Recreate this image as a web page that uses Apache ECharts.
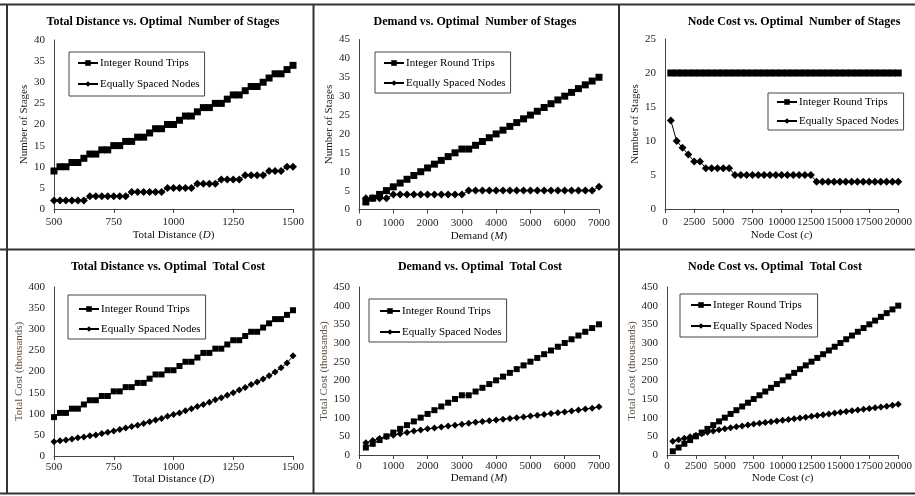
<!DOCTYPE html>
<html>
<head>
<meta charset="utf-8">
<script src="https://cdn.jsdelivr.net/npm/echarts@6/dist/echarts.min.js"></script>
<style>
html,body{margin:0;padding:0;background:#fff;}
#chart{width:915px;height:496px;}
</style>
</head>
<body>
<div id="chart"></div>
<script>
// ---------- data ----------
const distX = [500,525,550,575,600,625,650,675,700,725,750,775,800,825,850,875,900,925,950,975,1000,1025,1050,1075,1100,1125,1150,1175,1200,1225,1250,1275,1300,1325,1350,1375,1400,1425,1450,1475,1500];
const demandX = [200,400,600,800,1000,1200,1400,1600,1800,2000,2200,2400,2600,2800,3000,3200,3400,3600,3800,4000,4200,4400,4600,4800,5000,5200,5400,5600,5800,6000,6200,6400,6600,6800,7000];
const nodeX = [500,1000,1500,2000,2500,3000,3500,4000,4500,5000,5500,6000,6500,7000,7500,8000,8500,9000,9500,10000,10500,11000,11500,12000,12500,13000,13500,14000,14500,15000,15500,16000,16500,17000,17500,18000,18500,19000,19500,20000];

const distStagesIRT = [9,10,10,11,11,12,13,13,14,14,15,15,16,16,17,17,18,19,19,20,20,21,22,22,23,24,24,25,25,26,27,27,28,29,29,30,31,32,32,33,34];
const distStagesESN = [2,2,2,2,2,2,3,3,3,3,3,3,3,4,4,4,4,4,4,5,5,5,5,5,6,6,6,6,7,7,7,7,8,8,8,8,9,9,9,10,10];

const demandStagesIRT = [2,3,4,5,6,7,8,9,10,11,12,13,14,15,16,16,17,18,19,20,21,22,23,24,25,26,27,28,29,30,31,32,33,34,35];
const demandStagesESN = [3,3,3,3,4,4,4,4,4,4,4,4,4,4,4,5,5,5,5,5,5,5,5,5,5,5,5,5,5,5,5,5,5,5,6];

const nodeStagesIRT = [20,20,20,20,20,20,20,20,20,20,20,20,20,20,20,20,20,20,20,20,20,20,20,20,20,20,20,20,20,20,20,20,20,20,20,20,20,20,20,20];
const nodeStagesESN = [13,10,9,8,7,7,6,6,6,6,6,5,5,5,5,5,5,5,5,5,5,5,5,5,5,4,4,4,4,4,4,4,4,4,4,4,4,4,4,4];

const distCostIRT = [92,102,102,112,112,122,132,132,142,142,153,153,163,163,173,173,183,193,193,203,203,213,223,223,233,244,244,254,254,264,274,274,284,294,294,304,314,324,324,334,345];
const distCostESN = [34,36,38,40,43,45,48,50,53,56,59,63,66,70,73,77,81,85,89,94,98,102,107,112,117,122,127,133,138,144,150,156,162,169,175,182,190,199,209,220,237];

const demandCostIRT = [20,30,40,50,60,70,80,90,100,110,120,130,140,150,160,160,170,180,190,200,210,220,230,240,250,260,270,280,290,300,310,320,330,340,350];
const demandCostESN = [33,39,44,49,53,57,60.5,64,67,70,72.5,75,77.5,80,82.5,85,87.5,89.5,91.5,93.5,96,98,100,102,104.5,106.5,108.5,111,113.5,115.5,118,120.5,123,125.5,129];

const nodeCostIRT = [10,20,30,40,50,60,70,80,90,100,110,120,130,140,150,160,170,180,190,200,210,220,230,240,250,260,270,280,290,300,310,320,330,340,350,360,370,380,390,400];
const nodeCostESN = [37,41,45,49,53,57,61,64.5,67.5,70.5,73,75.5,78,80.5,83,85,87,89,91,93,95,97,99,101,103.5,106,108,110,112.5,114.5,116.5,118.5,120.5,122.5,124.5,126.5,128.5,130.5,133,136];

const seriesNames = ['Integer Round Trips','Equally Spaced Nodes'];
const titles = [
  'Total Distance vs. Optimal  Number of Stages',
  'Demand vs. Optimal  Number of Stages',
  'Node Cost vs. Optimal  Number of Stages',
  'Total Distance vs. Optimal  Total Cost',
  'Demand vs. Optimal  Total Cost',
  'Node Cost vs. Optimal  Total Cost'
];
const xNames = ['Total Distance ({i|D})','Demand ({i|M})','Node Cost ({i|c})','Total Distance ({i|D})','Demand ({i|M})','Node Cost ({i|c})'];
const yNames = ['Number of Stages','Number of Stages','Number of Stages','Total Cost (thousands)','Total Cost (thousands)','Total Cost (thousands)'];

// ---------- layout ----------
const FONT = '"Liberation Serif", "Times New Roman", serif';
const panels = [
  {xs: distX, a: distStagesIRT, b: distStagesESN, xmin:500, xmax:1500, xint:250, ymax:40, yint:5,
   grid:{left:54, top:40, width:239, height:169}, title:[163,22], legend:{left:69, top:52, padding:[5,5,6,8], itemGap:9}, sq:7, dm:8, yGap:22},
  {xs: demandX, a: demandStagesIRT, b: demandStagesESN, xmin:0, xmax:7000, xint:1000, ymax:45, yint:5,
   grid:{left:359, top:39.5, width:240, height:170}, title:[475,22], legend:{left:375, top:52, padding:[5,5,4,8], itemGap:8}, sq:7, dm:8, yGap:20},
  {xs: nodeX, a: nodeStagesIRT, b: nodeStagesESN, xmin:0, xmax:20000, xint:2500, ymax:25, yint:5,
   grid:{left:665, top:39, width:240, height:170}, title:[794,22], legend:{left:768, top:93, padding:[3,5,3,8], itemGap:7}, sq:7, dm:8, yGap:21},
  {xs: distX, a: distCostIRT, b: distCostESN, xmin:500, xmax:1500, xint:250, ymax:400, yint:50,
   grid:{left:54, top:287, width:239, height:169}, title:[168,267], legend:{left:68, top:295, padding:[8,5,4,10], itemGap:8}, sq:6, dm:7, yGap:25},
  {xs: demandX, a: demandCostIRT, b: demandCostESN, xmin:0, xmax:7000, xint:1000, ymax:450, yint:50,
   grid:{left:359, top:287, width:240, height:168}, title:[480,267], legend:{left:369, top:299, padding:[6,5,4,10], itemGap:9}, sq:6, dm:7, yGap:24},
  {xs: nodeX, a: nodeCostIRT, b: nodeCostESN, xmin:0, xmax:20000, xint:2500, ymax:450, yint:50,
   grid:{left:667, top:287, width:238, height:168}, title:[775,267], legend:{left:680, top:294, padding:[5,5,5,10], itemGap:9}, sq:6, dm:7, yGap:27}
];

const AXIS = '#444';
const grids = [], xAxes = [], yAxes = [], series = [], legends = [], graphics = [];
const plain = v => String(v);

panels.forEach((p, i) => {
  grids.push(Object.assign({containLabel:false}, p.grid));
  xAxes.push({
    type:'value', gridIndex:i, min:p.xmin, max:p.xmax, interval:p.xint,
    name: xNames[i], nameLocation:'middle', nameGap: i < 3 ? 21 : 17,
    nameTextStyle:{fontFamily:FONT, fontSize:11, color:'#111',
      rich:{i:{fontFamily:FONT, fontSize:11, fontStyle:'italic', color:'#111'}}},
    axisLine:{show:true, onZero:false, lineStyle:{color:AXIS, width:1}},
    axisTick:{show:true, length:4, inside:false, lineStyle:{color:AXIS}},
    axisLabel:{fontFamily:FONT, fontSize:11, color:'#222', margin: i < 3 ? 8 : 6,
      formatter:plain, showMinLabel:true, showMaxLabel:true, hideOverlap:false},
    splitLine:{show:false}
  });
  yAxes.push({
    type:'value', gridIndex:i, min:0, max:p.ymax, interval:p.yint,
    name: yNames[i], nameLocation:'middle', nameGap:p.yGap, nameRotate:90,
    nameTextStyle:{fontFamily:FONT, fontSize:11, color: i < 3 ? '#222' : '#5e4e40'},
    axisLine:{show:true, lineStyle:{color:AXIS, width:1}},
    axisTick:{show:false},
    axisLabel:{fontFamily:FONT, fontSize:11, color:'#222', margin:9, formatter:plain},
    splitLine:{show:false}
  });
  series.push({
    name: seriesNames[0], type:'line', xAxisIndex:i, yAxisIndex:i,
    data: p.xs.map((x, k) => [x, p.a[k]]),
    symbol:'rect', symbolSize:p.sq, showSymbol:true, clip:false,
    lineStyle:{color:'#000', width:1}, itemStyle:{color:'#000'}
  });
  series.push({
    name: seriesNames[1], type:'line', xAxisIndex:i, yAxisIndex:i,
    data: p.xs.map((x, k) => [x, p.b[k]]),
    symbol:'diamond', symbolSize:p.dm, showSymbol:true, clip:false,
    lineStyle:{color:'#000', width:1}, itemStyle:{color:'#000'}
  });
  legends.push({
    data: seriesNames, orient:'vertical', left:p.legend.left, top:p.legend.top,
    padding:p.legend.padding, itemGap:p.legend.itemGap, itemWidth:20, itemHeight:7,
    borderColor:'#444', borderWidth:1, backgroundColor:'#fff',
    selectedMode:false,
    textStyle:{fontFamily:FONT, fontSize:11, color:'#000', lineHeight:12, padding:[0,0,0,-3]}
  });
  graphics.push({
    type:'text', x:p.title[0], y:p.title[1], silent:true,
    style:{text:titles[i], fill:'#000', font:'bold 12px ' + FONT, align:'center', verticalAlign:'middle'}
  });
});

// panel borders
const BC = '#333';
const lines = [
  [0,4.5,915,4.5],[0,249.5,915,249.5],[0,493.5,915,493.5],
  [7,4.5,7,493.5],[313.5,4.5,313.5,493.5],[619,4.5,619,493.5]
];
lines.forEach(l => graphics.push({type:'line', silent:true, shape:{x1:l[0],y1:l[1],x2:l[2],y2:l[3]}, style:{stroke:BC, lineWidth:2}}));

const chart = echarts.init(document.getElementById('chart'), null, {renderer:'canvas'});
chart.setOption({
  animation:false,
  backgroundColor:'#fff',
  grid: grids, xAxis: xAxes, yAxis: yAxes, series: series, legend: legends,
  graphic: graphics
});
</script>
</body>
</html>
